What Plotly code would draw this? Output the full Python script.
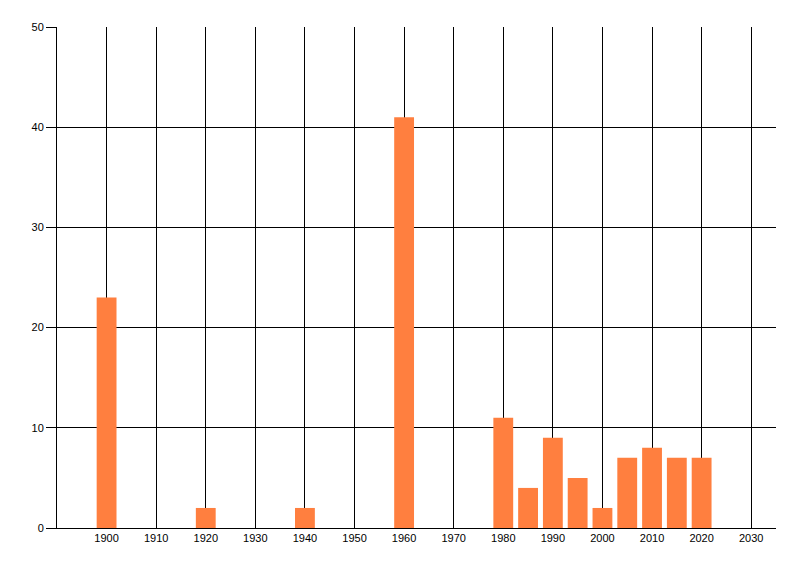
import plotly.graph_objects as go

years = [1900, 1920, 1940, 1960, 1980, 1985, 1990, 1995, 2000, 2005, 2010, 2015, 2020]
counts = [23, 2, 2, 41, 11, 4, 9, 5, 2, 7, 8, 7, 7]
x_ticks = list(range(1900, 2031, 10))
y_ticks = [0, 10, 20, 30, 40, 50]

fig = go.Figure()
fig.add_trace(go.Bar(x=years, y=counts, width=4, marker_color="#FF7F3F",
                     marker_line_width=0))

# page body adds an 8px offset, so margins are shifted to match
fig.update_layout(
    width=800, height=576,
    margin=dict(l=49, r=32, t=19, b=56),
    paper_bgcolor="white", plot_bgcolor="white",
    showlegend=False,
    font=dict(family="Liberation Sans, Arial", size=11, color="black"),
)
fig.update_xaxes(range=[1890, 2035], tickvals=x_ticks, showgrid=True,
                 gridcolor="black", gridwidth=1, showline=True, linecolor="black",
                 linewidth=1, ticks="", zeroline=False, automargin=False)
fig.update_yaxes(range=[0, 50], tickvals=y_ticks, showgrid=True,
                 gridcolor="black", gridwidth=1, showline=True, linecolor="black",
                 linewidth=1, ticks="outside", ticklen=10, tickcolor="black",
                 zeroline=False, automargin=False)

fig.write_html("out.html")
